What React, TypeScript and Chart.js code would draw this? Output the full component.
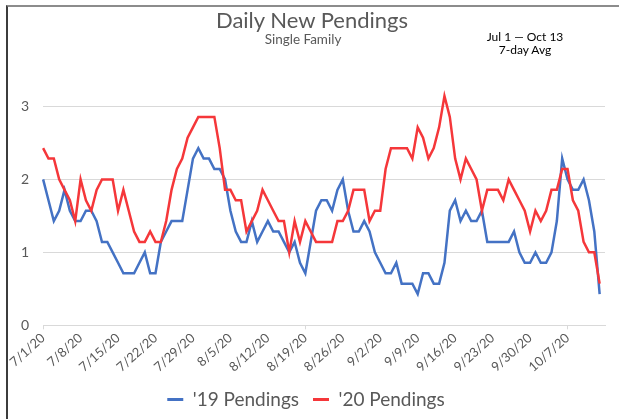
import React, { useEffect, useRef } from "react";
import { Chart, registerables } from "chart.js";

Chart.register(...registerables);

// 7-day averages, Jul 1 .. Oct 13 (105 days)
const pendings19: number[] = [
  2.0, 1.714, 1.429, 1.571, 1.857, 1.571, 1.429, 1.429, 1.571, 1.571,
  1.429, 1.143, 1.143, 1.0, 0.857, 0.714, 0.714, 0.714, 0.857, 1.0,
  0.714, 0.714, 1.143, 1.286, 1.429, 1.429, 1.429, 1.857, 2.286, 2.429,
  2.286, 2.286, 2.143, 2.143, 2.0, 1.571, 1.286, 1.143, 1.143, 1.429,
  1.143, 1.286, 1.429, 1.286, 1.286, 1.143, 1.0, 1.143, 0.857, 0.714,
  1.143, 1.571, 1.714, 1.714, 1.571, 1.857, 2.0, 1.571, 1.286, 1.286,
  1.429, 1.286, 1.0, 0.857, 0.714, 0.714, 0.857, 0.571, 0.571, 0.571,
  0.429, 0.714, 0.714, 0.571, 0.571, 0.857, 1.571, 1.714, 1.429, 1.571,
  1.429, 1.429, 1.571, 1.143, 1.143, 1.143, 1.143, 1.143, 1.286, 1.0,
  0.857, 0.857, 1.0, 0.857, 0.857, 1.0, 1.429, 2.286, 2.0, 1.857,
  1.857, 2.0, 1.714, 1.286, 0.429,
];

const pendings20: number[] = [
  2.429, 2.286, 2.286, 2.0, 1.857, 1.714, 1.429, 2.0, 1.714, 1.571,
  1.857, 2.0, 2.0, 2.0, 1.571, 1.857, 1.571, 1.286, 1.143, 1.143,
  1.286, 1.143, 1.143, 1.429, 1.857, 2.143, 2.286, 2.571, 2.714, 2.857,
  2.857, 2.857, 2.857, 2.429, 1.857, 1.857, 1.714, 1.714, 1.286, 1.429,
  1.571, 1.857, 1.714, 1.571, 1.429, 1.429, 1.0, 1.429, 1.143, 1.429,
  1.286, 1.143, 1.143, 1.143, 1.143, 1.429, 1.429, 1.571, 1.857, 1.857,
  1.857, 1.429, 1.571, 1.571, 2.143, 2.429, 2.429, 2.429, 2.429, 2.286,
  2.714, 2.571, 2.286, 2.429, 2.714, 3.143, 2.857, 2.286, 2.0, 2.286,
  2.143, 2.0, 1.571, 1.857, 1.857, 1.857, 1.714, 2.0, 1.857, 1.714,
  1.571, 1.286, 1.571, 1.429, 1.571, 1.857, 1.857, 2.143, 2.143, 1.714,
  1.571, 1.143, 1.0, 1.0, 0.571,
];

// category labels: 7/1/20 .. 10/14/20 (last one only closes the axis)
const monthDays: [number, number][] = [[7, 31], [8, 31], [9, 30], [10, 14]];
const categories: string[] = [];
for (const [m, n] of monthDays) {
  for (let d = 1; d <= n; d++) categories.push(`${m}/${d}/20`);
}

const yTicks: number[] = [0, 1, 2, 3];
const seriesNames = ["'19 Pendings", "'20 Pendings"];
const seriesColors = ["#4472C4", "#F5373A"];

const FONT = "Lato, 'Open Sans', sans-serif";

export default function App() {
  const ref = useRef<HTMLCanvasElement | null>(null);

  useEffect(() => {
    const canvas = ref.current;
    if (!canvas) return;
    const lastIdx = categories.length - 1;
    const chart = new Chart(canvas, {
      type: "line",
      data: {
        labels: categories,
        datasets: [
          {
            label: seriesNames[0],
            data: pendings19,
            borderColor: seriesColors[0],
            backgroundColor: seriesColors[0],
            borderWidth: 2.5,
            pointRadius: 0,
            tension: 0,
            order: 2,
          },
          {
            label: seriesNames[1],
            data: pendings20,
            borderColor: seriesColors[1],
            backgroundColor: seriesColors[1],
            borderWidth: 2.5,
            pointRadius: 0,
            tension: 0,
            order: 1,
          },
        ],
      },
      options: {
        responsive: false,
        animation: false,
        events: [],
        layout: { padding: { left: 7, right: 14, top: 70, bottom: 0 } },
        scales: {
          x: {
            type: "category",
            offset: false,
            grid: {
              display: true,
              drawOnChartArea: false,
              drawTicks: true,
              tickLength: 4,
              color: "#d9d9d9",
              tickColor: (ctx: any) =>
                ctx.index % 7 === 0 ? "#d9d9d9" : "rgba(0,0,0,0)",
            },
            border: { display: true, color: "#d9d9d9" },
            ticks: {
              autoSkip: false,
              minRotation: 42,
              maxRotation: 42,
              padding: 1,
              color: "#595959",
              font: { family: FONT, size: 13 },
              callback: function (this: any, val: any, idx: number) {
                if (idx % 7 !== 0) return null;
                if (idx === lastIdx) return "";
                return categories[idx];
              },
            },
          },
          y: {
            min: 0,
            max: 3.5,
            ticks: {
              stepSize: 1,
              includeBounds: false,
              color: "#595959",
              padding: 14,
              font: { family: FONT, size: 14 },
            },
            afterBuildTicks: (scale: any) => {
              scale.ticks = yTicks.map((v) => ({ value: v }));
            },
            grid: { color: "#d9d9d9", drawTicks: false },
            border: { display: false },
          },
        },
        plugins: {
          title: { display: false },
          tooltip: { enabled: false },
          legend: {
            display: true,
            position: "bottom",
            labels: {
              boxWidth: 16,
              boxHeight: 3,
              padding: 14,
              color: "#595959",
              font: { family: FONT, size: 19 },
              sort: (a: any, b: any) => a.datasetIndex - b.datasetIndex,
              generateLabels: (c: any) =>
                (Chart.defaults.plugins.legend.labels as any)
                  .generateLabels(c)
                  .map((l: any) => ({ ...l, lineWidth: 0 })),
            },
          },
        },
      } as any,
    });
    return () => chart.destroy();
  }, []);

  return (
    <div
      style={{
        position: "absolute",
        left: 0,
        top: 0,
        width: 619,
        height: 419,
        background: "#fff",
        overflow: "hidden",
        fontFamily: FONT,
      }}
    >
      <canvas
        ref={ref}
        width={619}
        height={419}
        style={{ position: "absolute", left: 0, top: 0 }}
      />
      <div
        style={{
          position: "absolute",
          left: 6,
          top: 5,
          width: 640,
          height: 440,
          borderTop: "2px solid #8c8c8c",
          borderLeft: "2px solid #3c3c3c",
          pointerEvents: "none",
        }}
      />
      <div
        style={{
          position: "absolute",
          left: 0,
          top: 8,
          width: 624,
          textAlign: "center",
          fontSize: 22,
          lineHeight: "24px",
          color: "#595959",
        }}
      >
        Daily New Pendings
      </div>
      <div
        style={{
          position: "absolute",
          left: 0,
          top: 32,
          width: 606,
          textAlign: "center",
          fontSize: 13.5,
          lineHeight: "15px",
          color: "#595959",
        }}
      >
        Single Family
      </div>
      <div
        style={{
          position: "absolute",
          left: 465,
          top: 31,
          width: 120,
          textAlign: "center",
          fontSize: 12,
          lineHeight: "12.5px",
          color: "#000",
        }}
      >
        <div>Jul 1 — Oct 13</div>
        <div>7-day Avg</div>
      </div>
    </div>
  );
}
